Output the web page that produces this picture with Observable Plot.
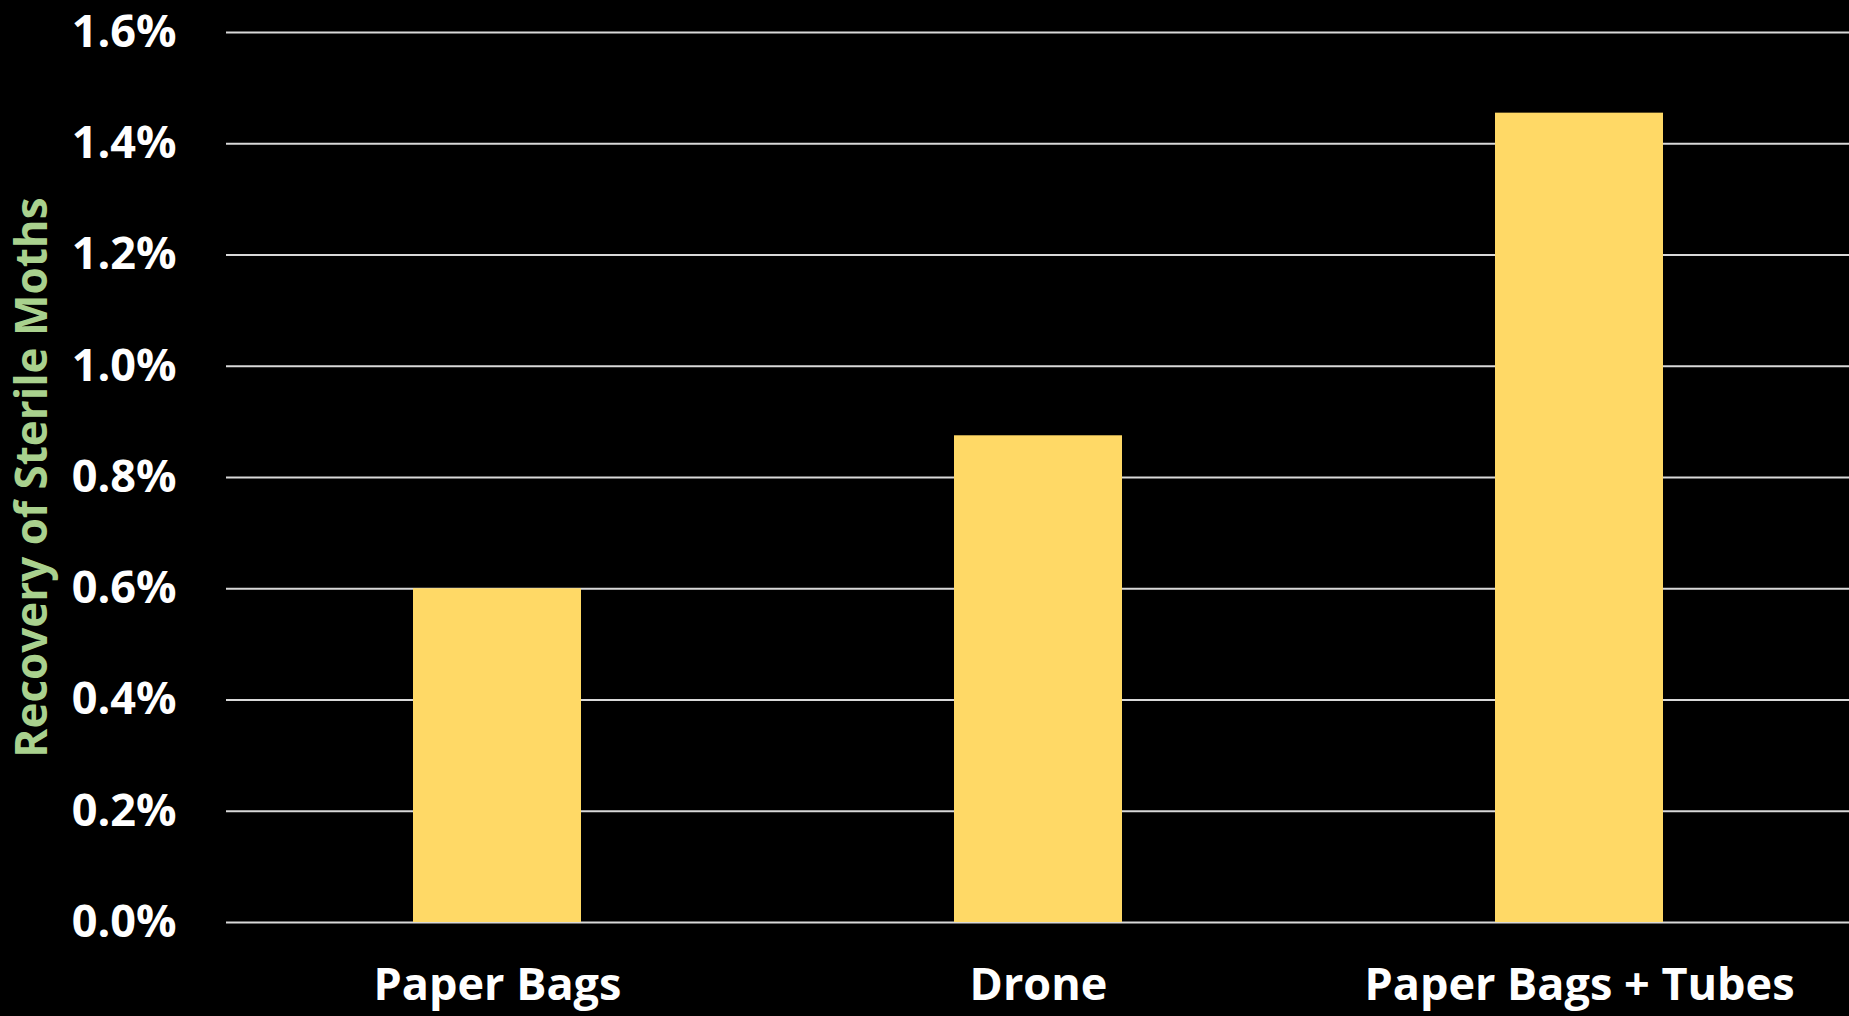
<!DOCTYPE html>
<html>
<head>
<meta charset="utf-8">
<script src="https://cdn.jsdelivr.net/npm/d3@7"></script>
<script src="https://cdn.jsdelivr.net/npm/@observablehq/plot@0.6"></script>
<style>
  html, body { margin: 0; padding: 0; background: #000; }
  #chart { width: 1849px; height: 1016px; overflow: hidden; }
</style>
</head>
<body>
<div id="chart"></div>
<script>
const categories = ["Paper Bags", "Drone", "Paper Bags + Tubes"];
const recovery = [0.0060, 0.00875, 0.01455];
const yTicks = [0, 0.002, 0.004, 0.006, 0.008, 0.010, 0.012, 0.014, 0.016];
const yTitle = "Recovery of Sterile Moths";

const data = categories.map((c, i) => ({category: c, value: recovery[i]}));

const chart = Plot.plot({
  width: 1849,
  height: 1016,
  marginLeft: 226,
  marginRight: 0,
  marginTop: 32,
  marginBottom: 94,
  style: {background: "#000", color: "#fff", fontFamily: "'Open Sans', sans-serif"},
  x: {domain: categories, paddingInner: 0.69, paddingOuter: 0.345, label: null},
  y: {domain: [0, 0.016], label: null},
  marks: [
    Plot.ruleY(yTicks, {stroke: "#d9d9d9", strokeWidth: 2}),
    Plot.barY(data, {x: "category", y: "value", fill: "#FFD966"}),
    Plot.axisY({ticks: yTicks, tickFormat: d3.format(".1%"), tickSize: 0, tickPadding: 50,
      fontSize: 45, fontWeight: "bold", fill: "#fff", label: null}),
    Plot.axisX({tickSize: 0, tickPadding: 46, fontSize: 45, fontWeight: "bold", fill: "#fff", label: null}),
    Plot.text([yTitle], {frameAnchor: "left", dx: -194, rotate: -90, fontSize: 44,
      fontWeight: "bold", fill: "#A9D18E", textAnchor: "middle"})
  ]
});
document.getElementById("chart").appendChild(chart);
</script>
</body>
</html>
